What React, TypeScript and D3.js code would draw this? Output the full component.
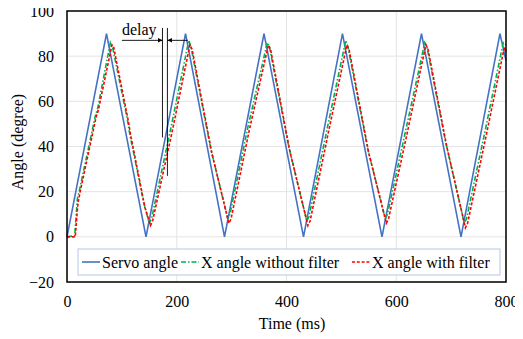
import React, { useEffect, useRef } from 'react';
import * as d3 from 'd3';

// time (ms), angle (degree)
const servoAngle: [number, number][] = [
  [0, 0], [72, 90], [144, 0], [216, 90], [287, 0], [359, 90], [431, 0],
  [502, 90], [574, 0], [646, 90], [718, 0], [789, 90], [800, 78],
];

const xAngleNoFilter: [number, number][] = [
  [0, 0], [14, 0.5], [19, 17], [23, 21], [52, 54], [56, 57], [79, 86], [83, 84],
  [110, 52], [114, 46], [140, 15], [150, 6], [154, 8], [190, 49], [222, 87], [226, 84],
  [262, 39], [293, 8], [297, 10], [330, 49], [365, 86], [369, 84], [404, 40], [437, 7],
  [441, 9], [475, 49], [508, 87], [512, 84], [548, 39], [580, 8], [584, 10], [618, 48],
  [652, 86], [656, 84], [690, 42], [724, 6], [728, 8], [762, 47], [795, 86], [800, 85],
];

const xAngleFilter: [number, number][] = [
  [0, 0], [15, 0], [20, 15], [24, 20], [53, 53], [57, 56], [82, 85], [85, 84],
  [112, 51], [116, 45], [142, 13], [152, 5], [156, 7], [192, 47], [224, 85], [228, 83],
  [264, 37], [295, 6], [299, 8], [332, 47], [367, 85], [371, 83], [406, 38], [439, 5],
  [443, 7], [477, 47], [510, 85], [514, 83], [550, 37], [582, 6], [586, 8], [620, 46],
  [654, 85], [658, 83], [692, 40], [726, 4], [730, 6], [764, 45], [797, 84], [800, 82],
];

const xTicks = [0, 200, 400, 600, 800];
const yTicks = [-20, 0, 20, 40, 60, 80, 100];

const seriesNames = ['Servo angle', 'X angle without filter', 'X angle with filter'];
const seriesColors = ['#4472c4', '#00b050', '#ff0000'];
const seriesDash = [null, '5,2,1.5,2', '3,1.8'];

// delay annotation: [time, bottom angle] of the two markers
const delayMarks: [number, number][] = [[174, 44], [183, 27]];

const FONT = '"Liberation Serif", "Times New Roman", serif';

export default function App() {
  const ref = useRef<SVGSVGElement>(null);

  useEffect(() => {
    const width = 523;
    const height = 339;
    const margin = { top: 11, right: 17, bottom: 57, left: 67 };
    const innerWidth = width - margin.left - margin.right;
    const innerHeight = height - margin.top - margin.bottom;

    const svg = d3.select(ref.current);
    svg.selectAll('*').remove();
    svg.attr('width', width).attr('height', height);

    const g = svg.append('g').attr('transform', `translate(${margin.left},${margin.top})`);

    const xScale = d3.scaleLinear().domain([0, 800]).range([0, innerWidth]);
    const yScale = d3.scaleLinear().domain([-20, 100]).range([innerHeight, 0]);

    // Gridlines
    g.selectAll('.hgrid')
      .data(yTicks)
      .join('line')
      .attr('x1', 0)
      .attr('x2', innerWidth)
      .attr('y1', d => yScale(d))
      .attr('y2', d => yScale(d))
      .attr('stroke', '#e4e4e4')
      .attr('stroke-width', 1);

    g.selectAll('.vgrid')
      .data(xTicks)
      .join('line')
      .attr('x1', d => xScale(d))
      .attr('x2', d => xScale(d))
      .attr('y1', 0)
      .attr('y2', innerHeight)
      .attr('stroke', '#e4e4e4')
      .attr('stroke-width', 1);

    // Axes (labels only)
    const xAxis = g.append('g')
      .attr('transform', `translate(0,${innerHeight})`)
      .call(d3.axisBottom(xScale).tickValues(xTicks).tickSize(0).tickPadding(14));
    xAxis.attr('font-family', FONT).attr('font-size', 16);
    xAxis.select('.domain').remove();
    xAxis.selectAll('text').attr('font-family', FONT).attr('font-size', 16).attr('fill', '#000');

    const yAxis = g.append('g')
      .call(d3.axisLeft(yScale).tickValues(yTicks).tickSize(0).tickPadding(13));
    yAxis.attr('font-family', FONT).attr('font-size', 16);
    yAxis.select('.domain').remove();
    yAxis.selectAll('text').attr('font-family', FONT).attr('font-size', 16).attr('fill', '#000');

    // Lines
    const lineGen = d3.line<[number, number]>()
      .x(d => xScale(d[0]))
      .y(d => yScale(d[1]));

    const allSeries = [servoAngle, xAngleNoFilter, xAngleFilter];
    allSeries.forEach((data, i) => {
      g.append('path')
        .attr('d', lineGen(data))
        .attr('fill', 'none')
        .attr('stroke', seriesColors[i])
        .attr('stroke-width', 1.6)
        .attr('stroke-dasharray', seriesDash[i]);
    });

    // Delay annotation
    const arrowY = yScale(87);
    const markTop = yScale(92.5);
    const defs = svg.append('defs');
    defs.append('marker')
      .attr('id', 'arrowhead')
      .attr('viewBox', '0 0 10 10')
      .attr('refX', 10)
      .attr('refY', 5)
      .attr('markerWidth', 7)
      .attr('markerHeight', 5)
      .attr('orient', 'auto')
      .append('path')
      .attr('d', 'M0,0 L10,5 L0,10 Z')
      .attr('fill', '#000');

    delayMarks.forEach(([t, bottom]) => {
      g.append('line')
        .attr('x1', xScale(t))
        .attr('x2', xScale(t))
        .attr('y1', markTop)
        .attr('y2', yScale(bottom))
        .attr('stroke', '#000')
        .attr('stroke-width', 0.9);
    });

    g.append('line')
      .attr('x1', xScale(100))
      .attr('x2', xScale(delayMarks[0][0]))
      .attr('y1', arrowY)
      .attr('y2', arrowY)
      .attr('stroke', '#000')
      .attr('stroke-width', 0.9)
      .attr('marker-end', 'url(#arrowhead)');

    g.append('line')
      .attr('x1', xScale(220))
      .attr('x2', xScale(delayMarks[1][0]))
      .attr('y1', arrowY)
      .attr('y2', arrowY)
      .attr('stroke', '#000')
      .attr('stroke-width', 0.9)
      .attr('marker-end', 'url(#arrowhead)');

    g.append('text')
      .attr('x', xScale(100))
      .attr('y', yScale(89.5))
      .attr('font-family', FONT)
      .attr('font-size', 16)
      .text('delay');

    // Plot frame
    g.append('rect')
      .attr('x', 0)
      .attr('y', 0)
      .attr('width', innerWidth)
      .attr('height', innerHeight)
      .attr('fill', 'none')
      .attr('stroke', '#000')
      .attr('stroke-width', 1.5);

    // Legend
    const legendY = 249 - margin.top;
    const legend = g.append('g').attr('transform', `translate(${78 - margin.left},${legendY})`);
    legend.append('rect')
      .attr('width', 422)
      .attr('height', 26)
      .attr('fill', '#fff')
      .attr('stroke', '#b4c7e7')
      .attr('stroke-width', 1);

    const itemX = [4, 103, 274];
    seriesNames.forEach((name, i) => {
      const item = legend.append('g').attr('transform', `translate(${itemX[i]},13)`);
      item.append('line')
        .attr('x1', 0)
        .attr('x2', 18)
        .attr('y1', 0)
        .attr('y2', 0)
        .attr('stroke', seriesColors[i])
        .attr('stroke-width', 1.6)
        .attr('stroke-dasharray', seriesDash[i]);
      item.append('text')
        .attr('x', 20)
        .attr('y', 5.5)
        .attr('font-family', FONT)
        .attr('font-size', 16)
        .text(name);
    });

    // Axis titles
    svg.append('text')
      .attr('x', 292)
      .attr('y', 329)
      .attr('text-anchor', 'middle')
      .attr('font-family', FONT)
      .attr('font-size', 16)
      .text('Time (ms)');

    svg.append('text')
      .attr('transform', 'translate(23,142) rotate(-90)')
      .attr('text-anchor', 'middle')
      .attr('font-family', FONT)
      .attr('font-size', 16)
      .text('Angle (degree)');
  }, []);

  return (
    <div style={{ margin: -8 }}>
      <svg ref={ref} />
    </div>
  );
}
